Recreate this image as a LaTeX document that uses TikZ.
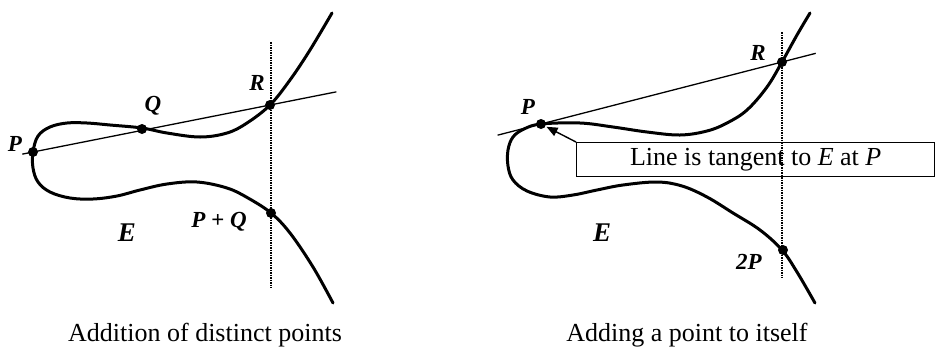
\documentclass[tikz,border=0pt]{standalone}
\usepackage{fontspec}
\setmainfont{Liberation Serif}
\usetikzlibrary{arrows.meta,calc}
\tikzset{
  curve/.style={line width=3pt, line cap=round, line join=round},
  chord/.style={line width=1.3pt},
  vert/.style={densely dotted, line width=1.5pt},
  dot/.style={circle, fill=black, inner sep=0pt, minimum size=10pt},
  lbl/.style={font=\fontsize{23}{27}\selectfont\bfseries\itshape, inner sep=1pt},
  curvename/.style={font=\fontsize{27}{31}\selectfont\bfseries\itshape, inner sep=1pt},
  caption/.style={font=\fontsize{26}{31}\selectfont, inner sep=0pt},
  notebox/.style={draw, line width=1.4pt, minimum width=358pt, minimum height=34pt,
    inner sep=0pt, font=\fontsize{26}{31}\selectfont},
  pointer/.style={-{Triangle[length=11pt,width=9pt]}, line width=1.4pt},
}
\begin{document}
\begin{tikzpicture}[x=1pt,y=-1pt]
  \useasboundingbox (0,0) rectangle (935,349);
  % left: addition of distinct points
  \draw[curve] plot[smooth, tension=0.6] coordinates {(332,13) (310,50) (290,80)
    (270,105) (247,123) (227,133) (200,137) (167,133) (142,128) (110,125) (87,123)
    (67,123) (50,127) (38,136) (33,152) (33,168) (38,182) (50,192) (70,198) (93,199)
    (117,196) (140,190) (167,184) (197,182) (227,188) (248,198) (271,213) (290,233)
    (313,267) (333,303)};
  \node[dot] (pP) at (33,152) {};
  \node[dot] (pQ) at (142,129) {};
  \node[dot] (pR) at (270,105) {};
  \node[dot] (pS) at (271,213) {};
  \coordinate (aTop) at (271,42);
  \coordinate (aBot) at (271,288);
  \draw[chord] ($(pP)!-0.045!(pR)$) -- ($(pR)!-0.28!(pP)$);
  \draw[vert] (aTop) -- (aBot);
  \node[lbl] (lP) at (15,144) {P};
  \node[lbl] (lQ) at (153,106) {Q};
  \node[lbl] (lR) at (257,83) {R};
  \node[lbl] (lS) at (219,222) {P + Q};
  \node[curvename] (lE) at (127,233) {E};
  \node[caption] (capL) at (205,335) {Addition of distinct points};
  % right: adding a point to itself
  \draw[curve] plot[smooth, tension=0.6] coordinates {(810,13) (797,35) (782,62)
    (767,87) (747,110) (727,123) (707,131) (680,135) (647,132) (613,127) (580,123)
    (541,124) (524,129) (513,137) (508,150) (508,166) (513,180) (527,191) (550,197)
    (573,195) (597,190) (623,185) (657,182) (682,186) (707,197) (733,213) (760,230)
    (782,250) (797,272) (815,303)};
  \node[dot] (tP) at (541,124) {};
  \node[dot] (tR) at (782,62) {};
  \node[dot] (tD) at (783,250) {};
  \coordinate (bTop) at (782,32);
  \coordinate (bBot) at (782,278);
  \draw[chord] ($(tP)!-0.18!(tR)$) -- ($(tR)!-0.14!(tP)$);
  \draw[vert] (bTop) -- (bBot);
  \node[notebox, anchor=north west] (tbox) at (576,142) {Line is tangent to \textit{E} at \textit{P}};
  \draw[pointer, shorten >=1pt] (tbox.north west) -- (tP);
  \node[lbl] (mP) at (528,107) {P};
  \node[lbl] (mR) at (758,53) {R};
  \node[lbl] (mD) at (749,262) {2P};
  \node[curvename] (mE) at (602,233) {E};
  \node[caption] (capR) at (687,335) {Adding a point to itself};
\end{tikzpicture}
\end{document}
